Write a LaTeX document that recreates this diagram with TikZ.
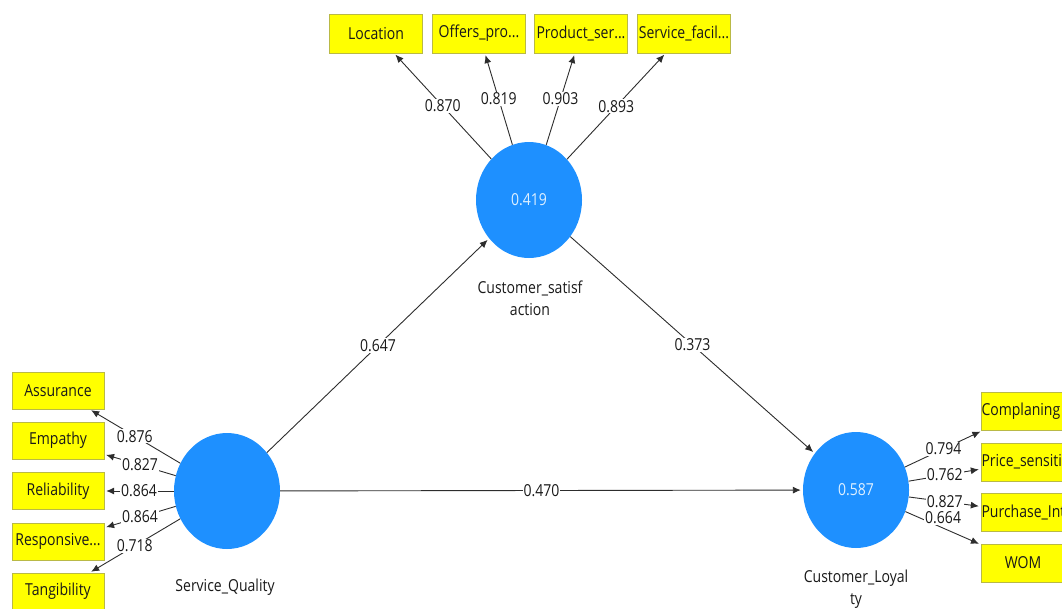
\documentclass[tikz,border=0pt]{standalone}
\usepackage{fontspec}
\setmainfont[FakeStretch=0.85]{Open Sans}
\usetikzlibrary{shapes.geometric,arrows.meta}
\definecolor{lvblue}{RGB}{30,144,255}
\definecolor{lvtext}{RGB}{222,240,255}
\definecolor{indfill}{RGB}{255,255,0}
\definecolor{indedge}{RGB}{185,185,70}
\definecolor{conngray}{RGB}{45,45,45}
\newcommand{\elide}{...}

\begin{document}
\begin{tikzpicture}[x=1pt,y=-1pt,
  lv/.style={ellipse,fill=lvblue,minimum width=106pt,minimum height=116pt,inner sep=0pt,text=lvtext,font=\fontsize{16.5}{19}\selectfont},
  lvname/.style={align=center,font=\fontsize{16.5}{22}\selectfont,text=black!90},
  ind/.style={rectangle,draw=indedge,fill=indfill,minimum width=92pt,minimum height=38pt,inner sep=0pt,font=\fontsize{16.5}{19}\selectfont,text=black!90},
  coef/.style={fill=white,inner sep=1pt,font=\fontsize{16.5}{19}\selectfont,text=black!90},
  conn/.style={draw=conngray,line width=0.9pt,shorten >=2pt,-{Latex[length=8pt,width=7pt]}}]
\useasboundingbox (0,0) rectangle (1062,608);

% latent variables
\node[lv] (cs) at (529,200) {0.419};
\node[lv] (sq) at (227,491) {};
\node[lv] (cl) at (856,490) {0.587};
\node[lvname] (csname) at (530,298) {Customer\_satisf\\action};
\node[lvname] (sqname) at (225,587) {Service\_Quality};
\node[lvname] (clname) at (856,589) {Customer\_Loyal\\ty};

% inner model
\draw[conn] (sq) -- node[coef] (b1) {0.647} (cs);
\draw[conn] (cs) -- node[coef] (b2) {0.373} (cl);
\draw[conn] (sq) -- node[coef] (b3) {0.470} (cl);

% indicators of customer satisfaction
\foreach \nm/\txt/\x/\w in {loc/Location/376/0.870, off/{Offers\_pro\elide}/479/0.819, prd/{Product\_ser\elide}/581/0.903, fac/{Service\_facil\elide}/684/0.893}{
	\node[ind,minimum width=93pt,minimum height=39pt] (\nm) at (\x,33.5) {\txt};
	\draw[conn] (cs) -- node[coef] (c\nm) {\w} (\nm);
}
% indicators of service quality
\foreach \nm/\txt/\y/\w in {asr/Assurance/390.5/0.876, emp/Empathy/440.5/0.827, rel/Reliability/491/0.864, rsp/{Responsive\elide}/541.5/0.864, tan/Tangibility/591.5/0.718}{
	\node[ind,minimum height=37pt] (\nm) at (58,\y) {\txt};
	\draw[conn] (sq) -- node[coef] (c\nm) {\w} (\nm);
}
% indicators of customer loyalty (cut by the right edge)
\foreach \nm/\txt/\y/\w/\al/\s in {cmp/Complaning/411.5/0.794/l/0, prc/Price\_sensiti/462/0.762/l/0, pur/Purchase\_Int/512/0.827/l/0, wom/WOM/563/0.664/c/10}{
	\node[ind,minimum width=84pt,inner xsep=0pt] (\nm) at (1023,\y) {\makebox[83pt][\al]{\txt}};
	\draw[conn] (cl) -- node[coef,yshift=\s pt] (c\nm) {\w} (\nm);
}
\end{tikzpicture}
\end{document}
